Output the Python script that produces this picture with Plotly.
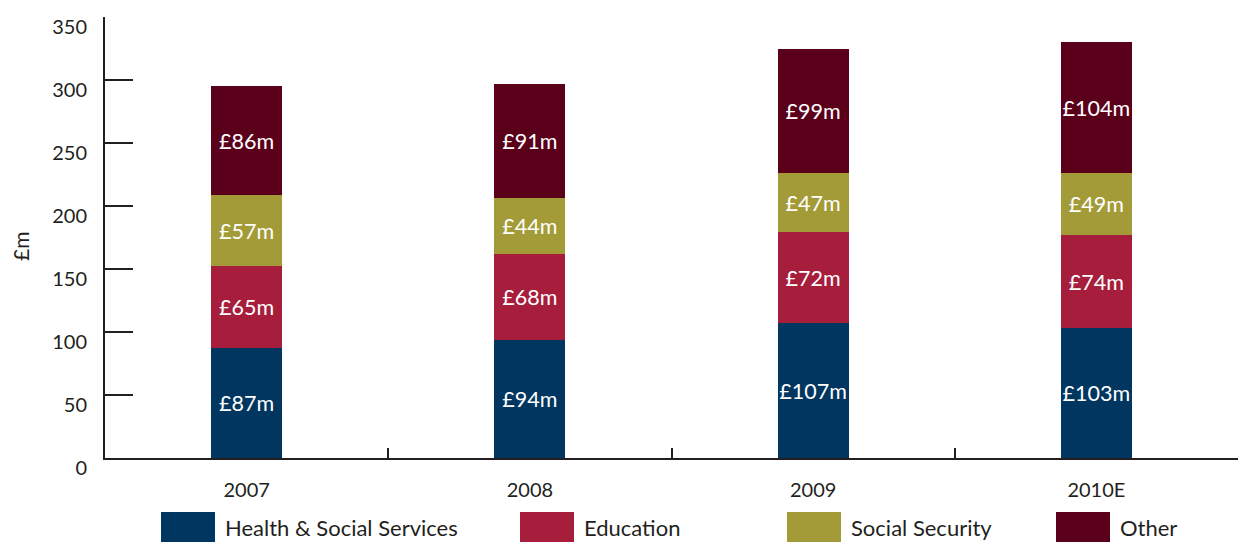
import plotly.graph_objects as go

# Spending by year, £m
years = ["2007", "2008", "2009", "2010E"]
series_names = ["Health & Social Services", "Education", "Social Security", "Other"]
health = [87, 94, 107, 103]
education = [65, 68, 72, 74]
social_security = [57, 44, 47, 49]
other = [86, 91, 99, 104]
series_values = [health, education, social_security, other]
series_colors = ["#00365F", "#A61E3C", "#A39B37", "#5A001B"]

y_ticks = [0, 50, 100, 150, 200, 250, 300, 350]

FONT = "Lato"
AXIS_COLOR = "#231f20"
TEXT_COLOR = "#231f20"

W, H = 1239, 542
PLOT_L, PLOT_R, PLOT_T, PLOT_B = 105, 1238, 17, 458


def px_to_paper_x(px):
    return (px - PLOT_L) / (PLOT_R - PLOT_L)


def px_to_paper_y(py):
    return (PLOT_B - py) / (PLOT_B - PLOT_T)


fig = go.Figure()
for name, vals, color in zip(series_names, series_values, series_colors):
    fig.add_trace(go.Bar(
        x=years,
        y=vals,
        name=name,
        marker=dict(color=color, line=dict(width=0)),
        text=[f"£{v}m" for v in vals],
        textposition="inside",
        insidetextanchor="middle",
        textangle=0,
        textfont=dict(family=FONT, size=21.5, color="white"),
        showlegend=False,
        hoverinfo="skip",
    ))

# Custom legend: large swatches with labels along the bottom edge
swatch_x = [161, 520, 787, 1056]
for x0, name, color in zip(swatch_x, series_names, series_colors):
    fig.add_shape(type="rect", xref="paper", yref="paper",
                  x0=px_to_paper_x(x0), x1=px_to_paper_x(x0 + 54),
                  y0=px_to_paper_y(546), y1=px_to_paper_y(512),
                  fillcolor=color, line=dict(width=0), layer="above")
    fig.add_annotation(xref="paper", yref="paper",
                       x=px_to_paper_x(x0 + 63), y=px_to_paper_y(527),
                       xanchor="left", yanchor="middle", showarrow=False,
                       borderpad=0,
                       text=name, font=dict(family=FONT, size=22, color=TEXT_COLOR))

# Y axis title
fig.add_annotation(xref="paper", yref="paper",
                   x=px_to_paper_x(20), y=px_to_paper_y(247),
                   xanchor="center", yanchor="middle", showarrow=False,
                   textangle=-90, text="£m",
                   font=dict(family=FONT, size=21, color=TEXT_COLOR))

fig.update_layout(
    barmode="stack",
    bargap=0.75,
    width=W,
    height=H,
    margin=dict(l=PLOT_L, r=W - PLOT_R, t=PLOT_T, b=H - PLOT_B),
    paper_bgcolor="white",
    plot_bgcolor="white",
    font=dict(family=FONT, size=20, color=TEXT_COLOR),
    uniformtext=dict(minsize=21.5, mode="show"),
    xaxis=dict(
        type="category",
        range=[-0.5, 3.5],
        showline=True, linecolor=AXIS_COLOR, linewidth=2,
        ticks="inside", tickson="boundaries", ticklen=10, tickwidth=1.5,
        tickcolor=AXIS_COLOR,
        showgrid=False, zeroline=False,
        tickfont=dict(family=FONT, size=20, color=TEXT_COLOR),
        ticklabelstandoff=13,
    ),
    yaxis=dict(
        range=[0, 350.02],
        tickvals=y_ticks,
        showline=True, linecolor=AXIS_COLOR, linewidth=2,
        ticks="inside", ticklen=28, tickwidth=2, tickcolor=AXIS_COLOR,
        showgrid=False, zeroline=False,
        tickfont=dict(family=FONT, size=20, color=TEXT_COLOR),
        ticklabelstandoff=12,
        ticklabelshift=10,
    ),
)

fig.write_html("out.html")
